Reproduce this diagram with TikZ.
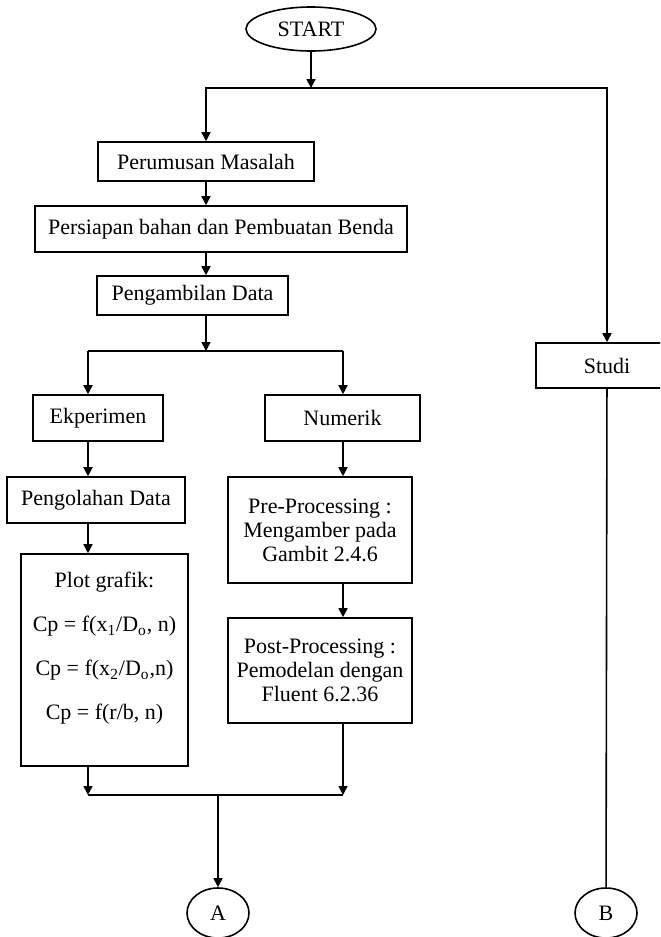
\documentclass[tikz,border=0pt]{standalone}
\usepackage{fontspec}
\setmainfont{Liberation Serif}
\usepackage{tikz}
\usetikzlibrary{shapes.geometric, arrows.meta, positioning}

\begin{document}
\begin{tikzpicture}[
    x=0.5pt, y=-0.5pt,
    process/.style={rectangle, draw, line width=0.8pt, inner sep=0pt, align=center, fill=white},
    terminal/.style={ellipse, draw, line width=0.8pt, inner sep=0pt, minimum width=65pt, minimum height=22pt},
    connector/.style={ellipse, draw, line width=0.8pt, inner sep=0pt, minimum width=31pt, minimum height=25pt},
    arrow/.style={-{Triangle[length=4.5pt, width=4.5pt]}, line width=0.8pt},
    line/.style={line width=0.8pt},
    every node/.append style={font=\fontsize{11}{12}\selectfont}
]
    \useasboundingbox (0,0) rectangle (660,937);
    \clip (0,0) rectangle (660,937);

    % Components
    \node[terminal] (start) at (311,29) {START};
    \node[process, minimum width=108pt, minimum height=19.5pt] (perumusan) at (206,161.5) {Perumusan Masalah};
    \node[process, minimum width=186pt, minimum height=23pt] (persiapan) at (221,229) {Persiapan bahan dan Pembuatan Benda};
    \node[process, minimum width=95.5pt, minimum height=19.5pt] (pengambilan) at (192.5,295.5) {Pengambilan Data};
    \node[process, minimum width=65pt, minimum height=23pt] (ekperimen) at (98,418) {Ekperimen};
    \node[process, minimum width=77.5pt, minimum height=23pt] (numerik) at (342.5,418) {Numerik};
    \node[process, minimum width=89pt, minimum height=23pt] (pengolahan) at (96,500) {Pengolahan Data};
    \node[process, minimum width=83.5pt, minimum height=106pt] (plot) at (104.5,660)
        {Plot grafik:\\[10pt]
         Cp = f(x\textsubscript{1}/D\textsubscript{o}, n)\\[10pt]
         Cp = f(x\textsubscript{2}/D\textsubscript{o},n)\\[10pt]
         Cp = f(r/b, n)\\[2pt]\mbox{}};
    \node[process, minimum width=92pt, minimum height=53pt] (pre) at (320,530)
        {Pre-Processing :\\Mengamber pada\\Gambit 2.4.6};
    \node[process, minimum width=92pt, minimum height=52.5pt] (post) at (320,670.5)
        {Post-Processing :\\Pemodelan dengan\\Fluent 6.2.36};
    \node[process, minimum width=71pt, minimum height=22.5pt] (studi) at (607,365.5) {Studi};
    \node[connector] (conA) at (218,913) {A};
    \node[connector] (conB) at (606,913) {B};

    % Branch points
    \coordinate (split1) at (311,88);
    \coordinate (split2) at (206,351);
    \coordinate (splitL) at (88,351);
    \coordinate (splitR) at (343,351);
    \coordinate (mergeL) at (88,795);
    \coordinate (mergeM) at (218,795);
    \coordinate (mergeR) at (343,795);

    % Connections
    \draw[arrow] (start) -- (split1);
    \draw[arrow] (split1) -| (perumusan.north);
    \draw[arrow] (split1) -| (studi.north);
    \draw[arrow] (perumusan) -- (persiapan.north -| perumusan);
    \draw[arrow] (persiapan.south -| perumusan) -- (pengambilan.north -| perumusan);
    \draw[arrow] (pengambilan.south -| split2) -- (split2);
    \draw[line] (splitL) -- (splitR);
    \draw[arrow] (splitL) -- (ekperimen.north -| splitL);
    \draw[arrow] (splitR) -- (numerik.north -| splitR);
    \draw[arrow] (ekperimen.south -| splitL) -- (pengolahan.north -| splitL);
    \draw[arrow] (pengolahan.south -| splitL) -- (plot.north -| splitL);
    \draw[arrow] (numerik.south -| splitR) -- (pre.north -| splitR);
    \draw[arrow] (pre.south -| splitR) -- (post.north -| splitR);
    \draw[arrow] (plot.south -| mergeL) -- (mergeL);
    \draw[arrow] (post.south -| mergeR) -- (mergeR);
    \draw[line] (mergeL) -- (mergeR);
    \draw[arrow] (mergeM) -- (conA);
    \draw[line] (studi) -- (conB);

\end{tikzpicture}
\end{document}
